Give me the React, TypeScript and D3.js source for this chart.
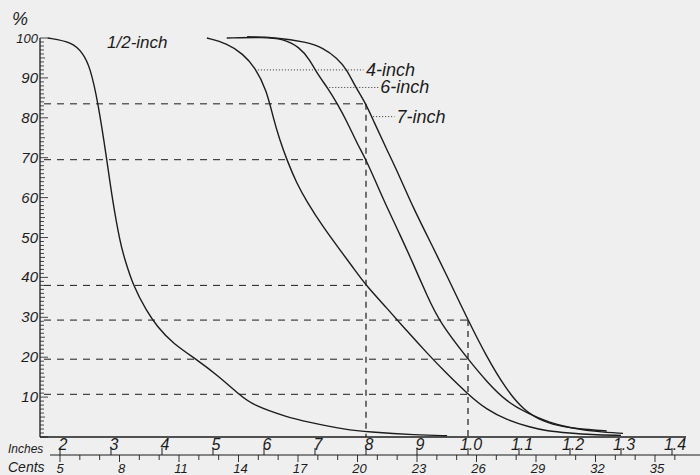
import React from "react";
import * as d3 from "d3";

// ---- data (inches of sieve opening vs percent passing) ----
const halfInch: [number, number][] = [
  [0.176, 100], [0.2235, 99], [0.245, 96.2], [0.259, 92.7], [0.2745, 84], [0.292, 69.4],
  [0.302, 60], [0.318, 48.6], [0.326, 45], [0.343, 38], [0.37, 31.5], [0.39, 27.8],
  [0.42, 23.5], [0.475, 18.8], [0.508, 15.5], [0.553, 10.5], [0.578, 8], [0.645, 5],
  [0.684, 3.8], [0.763, 1.8], [0.802, 1.3], [0.9, 0.5], [0.959, 0.3],
];
const fourInch: [number, number][] = [
  [0.488, 100], [0.527, 98.7], [0.559, 96], [0.582, 92.7], [0.605, 87], [0.618, 80],
  [0.631, 74.4], [0.645, 69.4], [0.664, 63.6], [0.684, 59], [0.716, 52.6], [0.749, 46.9],
  [0.775, 42.4], [0.8, 38], [0.841, 32.3], [0.88, 26.6], [0.92, 21], [0.955, 16.3],
  [1.0, 10.7], [1.037, 6.8], [1.076, 4.3], [1.12, 2.5], [1.155, 1.5], [1.2, 1],
  [1.24, 0.6], [1.3, 0.4],
];
const sixInch: [number, number][] = [
  [0.527, 100], [0.6, 100.2], [0.637, 99.8], [0.67, 97.7], [0.69, 94.5], [0.706, 90.7],
  [0.725, 87.5], [0.743, 83.7], [0.763, 79], [0.782, 73.7], [0.8, 69.5], [0.82, 63.7],
  [0.841, 57.6], [0.867, 50.6], [0.892, 43.6], [0.92, 35.3], [0.945, 28.6], [1.0, 19.5],
  [1.037, 13.8], [1.076, 8.8], [1.116, 6], [1.161, 3.5], [1.2, 2.3], [1.253, 1.3],
  [1.304, 0.9],
];
const sevenInch: [number, number][] = [
  [0.567, 100.3], [0.62, 100.2], [0.684, 99], [0.716, 97.5], [0.743, 95], [0.763, 92],
  [0.778, 88], [0.8, 83.5], [0.814, 79.4], [0.841, 72], [0.867, 65], [0.892, 57.6],
  [0.931, 47.6], [0.955, 41.4], [1.0, 29.3], [1.037, 20], [1.073, 12.3], [1.108, 6.8],
  [1.147, 3.8], [1.186, 2.5], [1.24, 1.8], [1.272, 1.5],
];
const seriesData = [halfInch, fourInch, sixInch, sevenInch];

// reference cross lines
const refInches = [0.8, 1.0];
const refAt08 = [83.5, 69.5, 38];
const refAt10 = [29.3, 19.5, 10.7];

// labels
const curveLabels = ["4-inch", "6-inch", "7-inch"];
const labelPct = [92, 87.6, 80.3];
const leaderStartInch = [0.588, 0.728, 0.814];
const leaderEndInch = [0.795, 0.825, 0.856];
const labelInch = [0.8, 0.828, 0.86];

const inchTicks = [0.2, 0.3, 0.4, 0.5, 0.6, 0.7, 0.8, 0.9, 1.0, 1.1, 1.2, 1.3, 1.4];
const inchTickLabels = ["2", "3", "4", "5", "6", "7", "8", "9", "1.0", "1.1", "1.2", "1.3", "1.4"];
const centLabels = [5, 8, 11, 14, 17, 20, 23, 26, 29, 32, 35];
const yTickLabels = [10, 20, 30, 40, 50, 60, 70, 80, 90, 100];

export default function App() {
  const xInch = d3.scaleLinear().domain([0.2, 1.4]).range([60, 672]);
  const xCent = d3.scaleLinear().domain([5, 35]).range([60, 655]);
  const y = d3.scaleLinear().domain([0, 100]).range([437, 38]);
  const line = d3
    .line<[number, number]>()
    .x((d) => xInch(d[0]))
    .y((d) => y(d[1]))
    .curve(d3.curveBasis);

  const font = "'Liberation Sans', 'DejaVu Sans', sans-serif";
  const ink = "#1c1c1c";
  const axisX = 40;
  const centLineY = 455;
  const minor = d3.range(0, 101);
  const cents = d3.range(5, 37);

  return (
    <svg
      width={700}
      height={475}
      style={{ position: "absolute", left: 0, top: 0, background: "#efefef" }}
      fontFamily={font}
    >
      <rect x={0} y={0} width={700} height={475} fill="#efefef" />
      {/* y axis */}
      <line x1={axisX} x2={axisX} y1={y(100)} y2={y(0)} stroke={ink} strokeWidth={1.3} />
      {minor.map((v) => (
        <line
          key={"m" + v}
          x1={axisX}
          x2={axisX + (v % 10 === 0 ? 8 : v % 5 === 0 ? 5 : 4)}
          y1={y(v)}
          y2={y(v)}
          stroke={ink}
          strokeWidth={0.8}
        />
      ))}
      {yTickLabels.map((v) => (
        <text
          key={"yl" + v}
          x={axisX - 2}
          y={y(v) + 5}
          textAnchor="end"
          fontSize={v === 100 ? 13 : 15}
          fontStyle="italic"
          fill={ink}
        >
          {v}
        </text>
      ))}
      <text x={12} y={25} fontSize={18} fontStyle="italic" fill={ink}>
        %
      </text>

      {/* x axis baseline */}
      <line x1={axisX} x2={686} y1={y(0)} y2={y(0)} stroke={ink} strokeWidth={1.3} />
      {/* inches / cents scale */}
      <line x1={50} x2={700} y1={centLineY} y2={centLineY} stroke={ink} strokeWidth={1.1} />
      {inchTicks.map((t, i) => (
        <g key={"it" + i}>
          <line x1={xInch(t)} x2={xInch(t)} y1={448} y2={centLineY} stroke={ink} strokeWidth={1} />
          <text
            x={xInch(t) + 3}
            y={450}
            textAnchor="middle"
            fontSize={16}
            fontStyle="italic"
            fill={ink}
          >
            {inchTickLabels[i]}
          </text>
        </g>
      ))}
      {cents.map((c) => (
        <line
          key={"ct" + c}
          x1={xCent(c)}
          x2={xCent(c)}
          y1={centLineY}
          y2={centLineY + (centLabels.includes(c) ? 7 : 5)}
          stroke={ink}
          strokeWidth={0.9}
        />
      ))}
      {centLabels.map((c) => (
        <text
          key={"cl" + c}
          x={xCent(c) + (c === 5 ? 0 : 2)}
          y={473}
          textAnchor="middle"
          fontSize={13}
          fontStyle="italic"
          fill={ink}
        >
          {c}
        </text>
      ))}
      <text x={8} y={453} fontSize={12} fontStyle="italic" fill={ink}>
        Inches
      </text>
      <text x={8} y={472} fontSize={14} fontStyle="italic" fill={ink}>
        Cents
      </text>

      {/* reference dashed lines */}
      {refAt08.map((p) => (
        <line
          key={"h8" + p}
          x1={axisX + 4}
          x2={xInch(refInches[0])}
          y1={y(p)}
          y2={y(p)}
          stroke={ink}
          strokeWidth={1}
          strokeDasharray="7,6"
        />
      ))}
      {refAt10.map((p) => (
        <line
          key={"h10" + p}
          x1={axisX + 4}
          x2={xInch(refInches[1])}
          y1={y(p)}
          y2={y(p)}
          stroke={ink}
          strokeWidth={1}
          strokeDasharray="7,6"
        />
      ))}
      <line
        x1={xInch(refInches[0])}
        x2={xInch(refInches[0])}
        y1={y(refAt08[0])}
        y2={y(0)}
        stroke={ink}
        strokeWidth={1.2}
        strokeDasharray="6,5"
      />
      <line
        x1={xInch(refInches[1])}
        x2={xInch(refInches[1])}
        y1={y(refAt10[0])}
        y2={y(0)}
        stroke={ink}
        strokeWidth={1.2}
        strokeDasharray="6,5"
      />

      {/* curves */}
      {seriesData.map((s, i) => (
        <path key={"c" + i} d={line(s) || ""} fill="none" stroke={ink} strokeWidth={1.4} />
      ))}

      {/* labels with dotted leaders */}
      {curveLabels.map((lab, i) => (
        <g key={"lb" + i}>
          <line
            x1={xInch(leaderStartInch[i])}
            x2={xInch(leaderEndInch[i])}
            y1={y(labelPct[i])}
            y2={y(labelPct[i])}
            stroke={ink}
            strokeWidth={0.9}
            strokeDasharray="1,2"
          />
          <text
            x={xInch(labelInch[i])}
            y={y(labelPct[i]) + 6}
            fontSize={18}
            fontStyle="italic"
            fill={ink}
          >
            {lab}
          </text>
        </g>
      ))}
      <text x={107} y={48} fontSize={17} fontStyle="italic" fill={ink}>
        1/2-inch
      </text>
    </svg>
  );
}
